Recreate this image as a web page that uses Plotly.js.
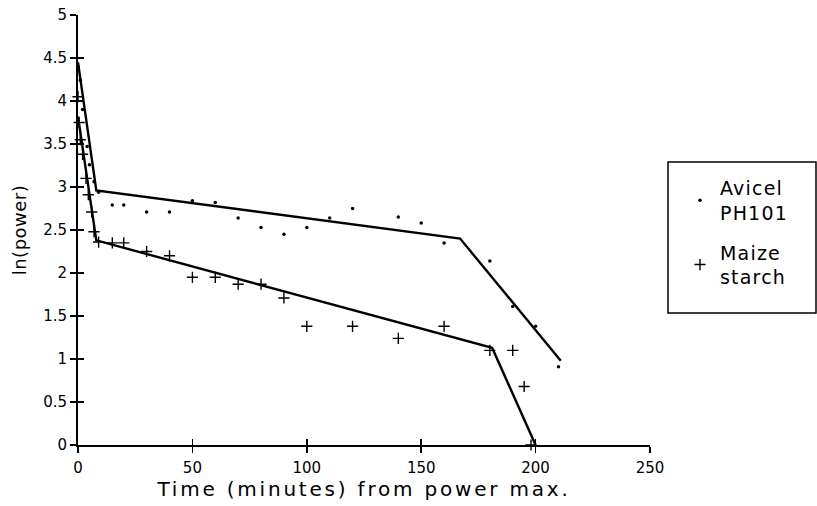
<!DOCTYPE html>
<html>
<head>
<meta charset="utf-8">
<script src="https://cdn.plot.ly/plotly-3.0.1.min.js"></script>
<style>
  html, body { margin: 0; padding: 0; background: #fff; }
  #chart { width: 817px; height: 506px; }
  .xtitle { letter-spacing: 2.8px; }
  .ytitle { letter-spacing: 0.5px; }
  .legendtext { letter-spacing: 1.2px; }
</style>
</head>
<body>
<div id="chart"></div>
<script>
// Avicel PH101 measurements (time in minutes from power max, ln(power))
const avicelTime = [0, 1, 2, 4, 5, 7, 9, 15, 20, 30, 40, 50, 60, 70, 80, 90, 100, 110, 120, 140, 150, 160, 180, 190, 200, 210];
const avicelLnPower = [4.4, 4.24, 3.9, 3.47, 3.26, 3.06, 2.94, 2.79, 2.79, 2.71, 2.71, 2.84, 2.82, 2.64, 2.53, 2.45, 2.53, 2.64, 2.75, 2.65, 2.58, 2.35, 2.14, 1.61, 1.38, 0.91];

// Maize starch measurements
const maizeTime = [0, 0.5, 1, 2, 3.5, 4.5, 6, 7, 9, 15, 20, 30, 40, 50, 60, 70, 80, 90, 100, 120, 140, 160, 180, 190, 195, 198];
const maizeLnPower = [4.05, 3.75, 3.55, 3.38, 3.1, 2.91, 2.71, 2.48, 2.36, 2.35, 2.35, 2.25, 2.2, 1.95, 1.95, 1.87, 1.87, 1.71, 1.38, 1.38, 1.24, 1.38, 1.1, 1.1, 0.68, 0];

// Piecewise linear fits
const avicelFitTime = [0, 8, 167, 211];
const avicelFitLnPower = [4.45, 2.96, 2.40, 0.98];
const maizeFitTime = [0, 8, 181, 200];
const maizeFitLnPower = [3.82, 2.38, 1.13, 0];

// Tick values
const xTickVals = [0, 50, 100, 150, 200, 250];
const yTickVals = [0, 0.5, 1, 1.5, 2, 2.5, 3, 3.5, 4, 4.5, 5];
const yTickText = ['0', '0.5', '1', '1.5', '2', '2.5', '3', '3.5', '4', '4.5', '5'];

const seriesNames = ['Avicel<br>PH101', 'Maize<br>starch'];

const FONT = 'DejaVu Sans, Liberation Sans, sans-serif';

const traces = [
  {
    x: avicelFitTime, y: avicelFitLnPower, mode: 'lines', type: 'scatter',
    line: {color: '#000', width: 2.4}, showlegend: false, cliponaxis: false, hoverinfo: 'skip'
  },
  {
    x: maizeFitTime, y: maizeFitLnPower, mode: 'lines', type: 'scatter',
    line: {color: '#000', width: 2.4}, showlegend: false, cliponaxis: false, hoverinfo: 'skip'
  },
  {
    x: avicelTime, y: avicelLnPower, mode: 'markers', type: 'scatter', name: seriesNames[0], legendgroup: 'a',
    marker: {symbol: 'circle', size: 3.5, color: '#000'}, cliponaxis: false
  },
  {
    x: maizeTime, y: maizeLnPower, mode: 'markers', type: 'scatter', name: seriesNames[1], legendgroup: 'b',
    marker: {symbol: 'cross-thin-open', size: 8, color: '#000', line: {color: '#000', width: 1.4}}, cliponaxis: false
  },
  {
    x: [], y: [], xaxis: 'x2', yaxis: 'y2', type: 'scatter', mode: 'markers', showlegend: false, hoverinfo: 'skip'
  }
];

const layout = {
  width: 817, height: 506,
  margin: {l: 78, r: 167, t: 15, b: 61, pad: 0},
  paper_bgcolor: '#fff', plot_bgcolor: '#fff',
  font: {family: FONT, color: '#000', size: 15},
  showlegend: true,
  xaxis: {
    range: [0, 250], tickvals: xTickVals, ticks: 'outside', ticklen: 6, tickwidth: 1.5, tickcolor: '#000',
    showline: true, linewidth: 2, linecolor: '#000', showgrid: false, zeroline: false,
    tickfont: {size: 15, family: FONT}, ticklabelstandoff: 2,
    title: {text: 'Time (minutes) from power max.', font: {size: 20, family: FONT}, standoff: 5}
  },
  yaxis: {
    range: [0, 5], tickvals: yTickVals, ticktext: yTickText, ticks: 'outside', ticklen: 6, tickwidth: 1.5, tickcolor: '#000',
    showline: true, linewidth: 2, linecolor: '#000', showgrid: false, zeroline: false,
    tickfont: {size: 15, family: FONT},
    title: {text: 'ln(power)', font: {size: 18, family: FONT}, standoff: 12}
  },
  xaxis2: {
    overlaying: 'x', anchor: 'y2', range: [0, 250], tickvals: xTickVals, ticks: 'inside', ticklen: 6, tickwidth: 1.5,
    tickcolor: '#000', showticklabels: false, showline: false, showgrid: false, zeroline: false
  },
  yaxis2: {
    overlaying: 'y', anchor: 'x2', side: 'left', range: [0, 5], tickvals: yTickVals, ticks: 'inside', ticklen: 6, tickwidth: 1.5,
    tickcolor: '#000', showticklabels: false, showline: false, showgrid: false, zeroline: false
  },
  shapes: [
    {type: 'rect', xref: 'paper', yref: 'paper', x0: 1.0315, x1: 1.2902, y0: 0.307, y1: 0.658,
     line: {color: '#000', width: 1.5}, fillcolor: 'rgba(0,0,0,0)', layer: 'below'}
  ],
  legend: {
    x: 1.0524, y: 0.642, xanchor: 'left', yanchor: 'top',
    borderwidth: 0, bgcolor: 'rgba(0,0,0,0)',
    font: {size: 19, family: FONT, color: '#000'},
    traceorder: 'grouped', tracegroupgap: 12, itemsizing: 'trace'
  }
};

Plotly.newPlot('chart', traces, layout, {staticPlot: true, displayModeBar: false});
</script>
</body>
</html>
